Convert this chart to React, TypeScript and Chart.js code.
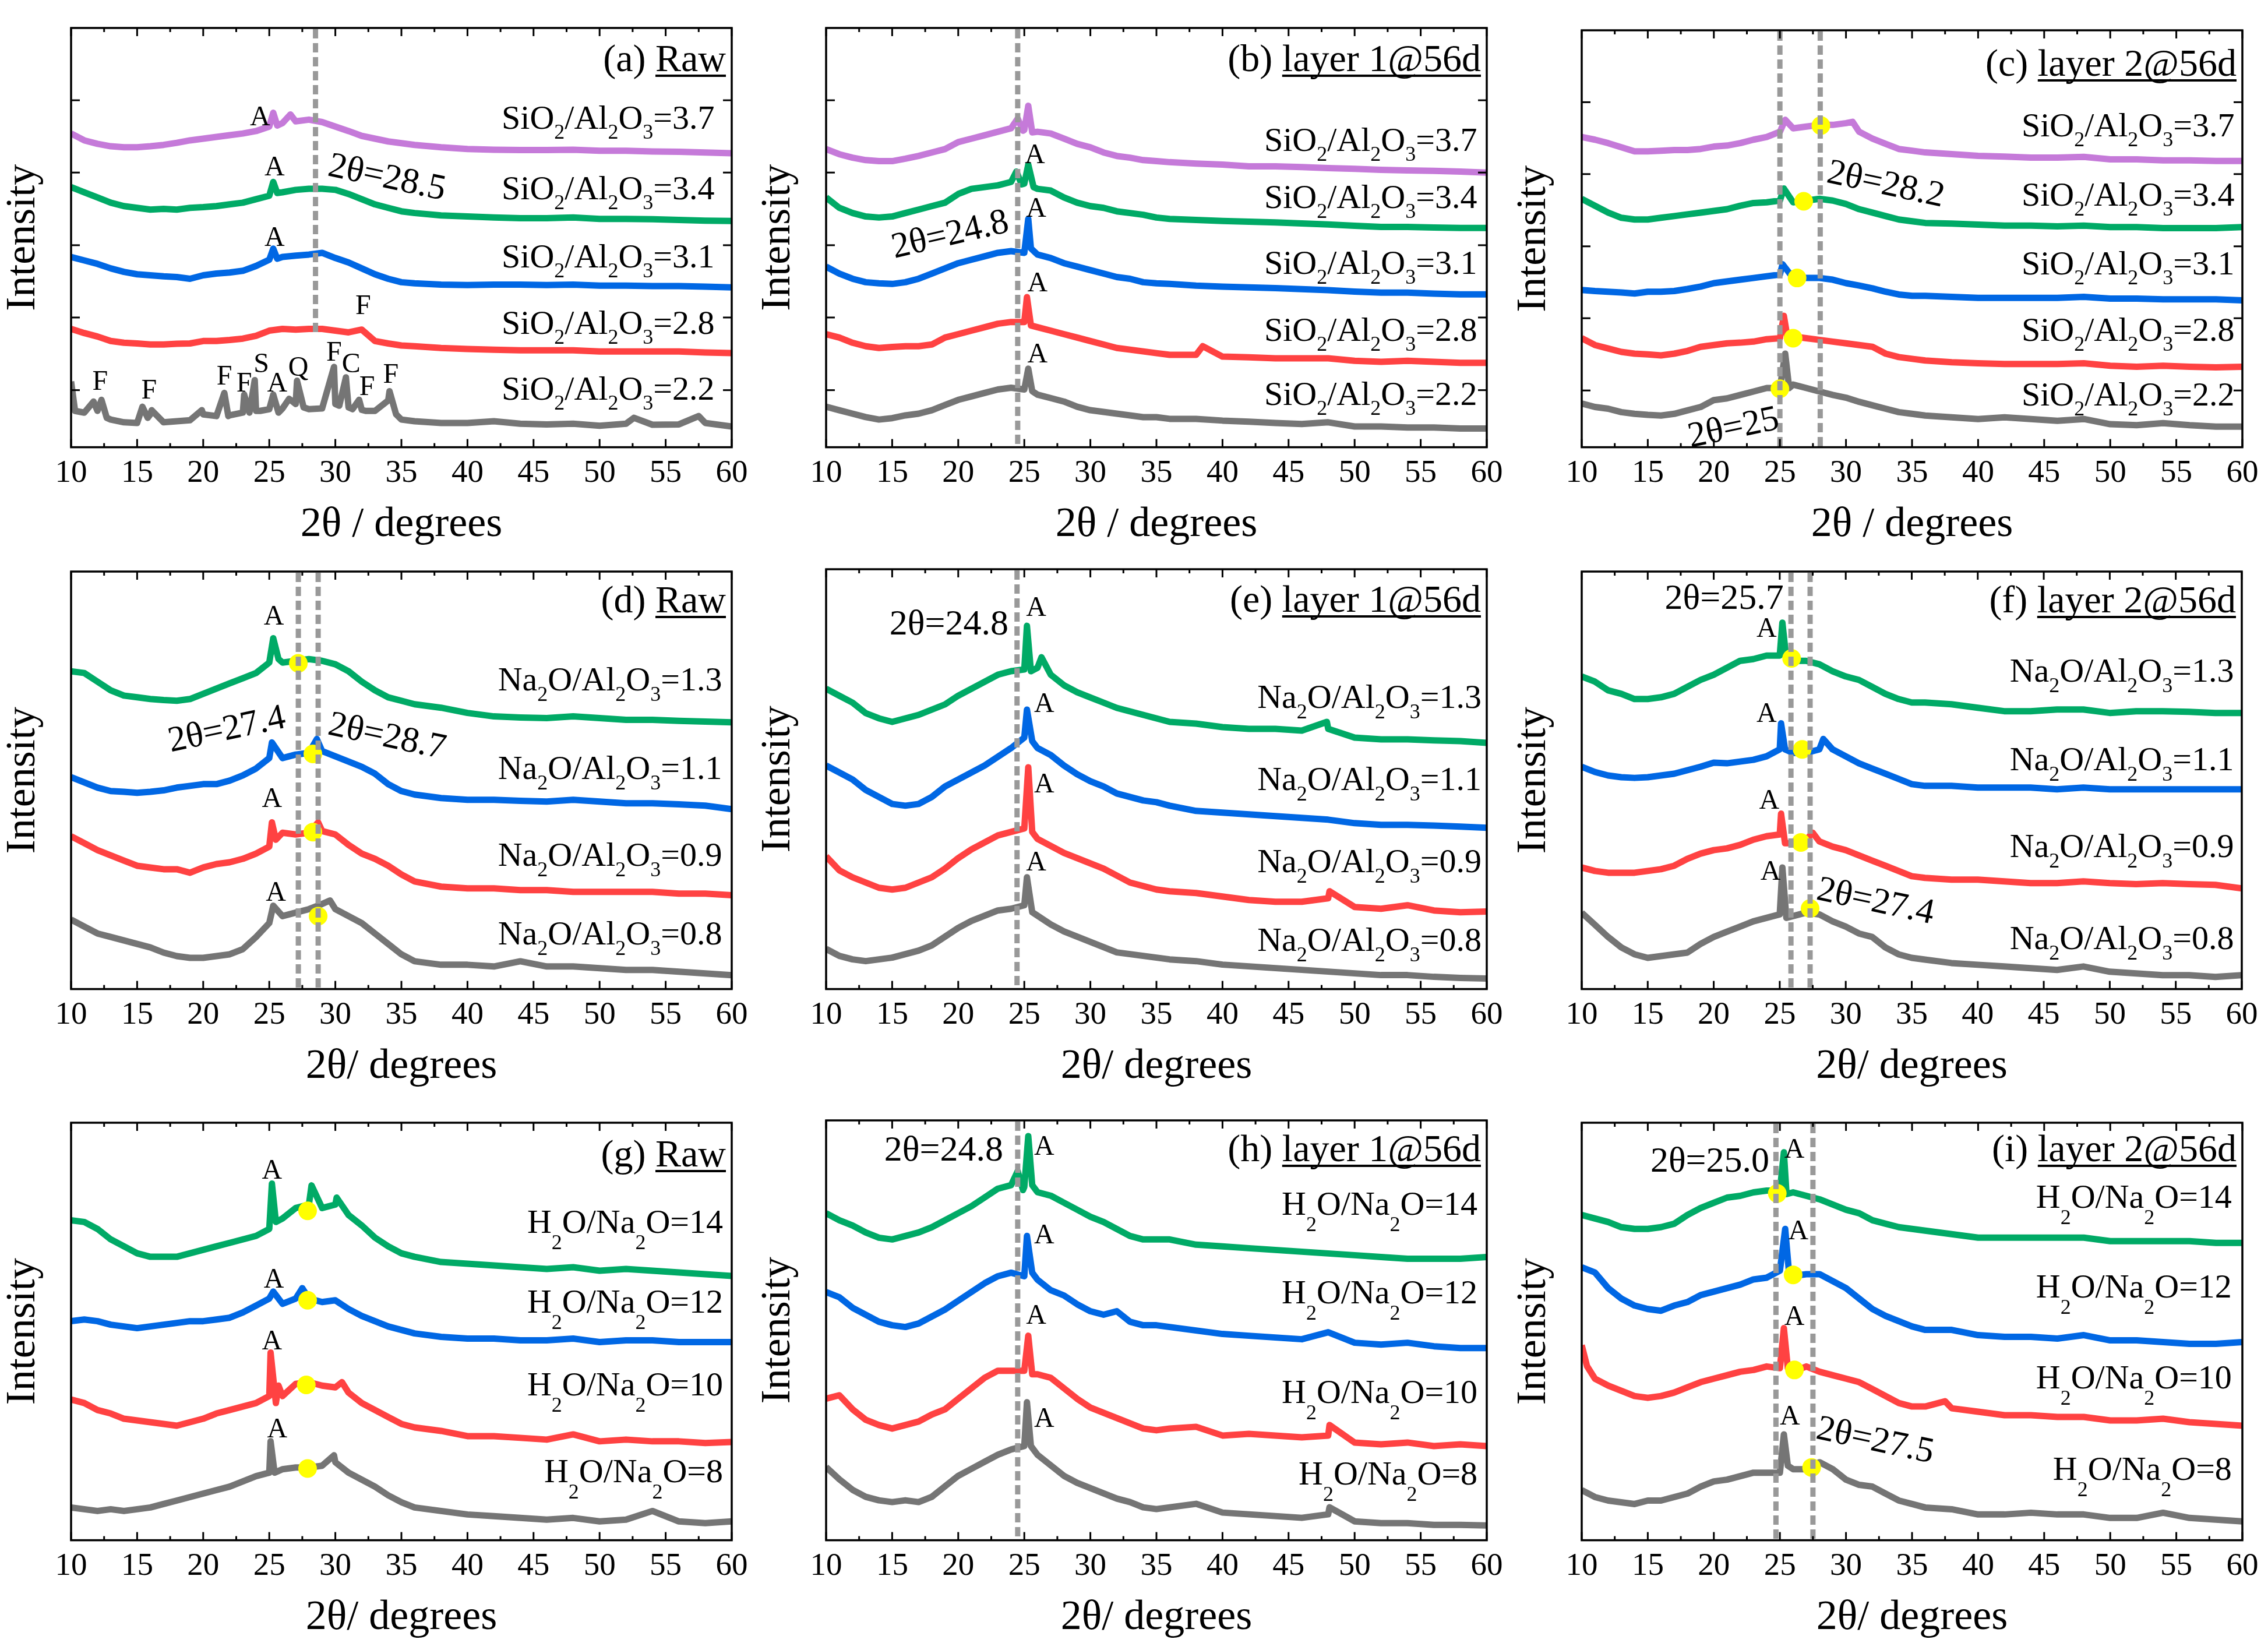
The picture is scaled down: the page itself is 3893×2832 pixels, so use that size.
import React, { useEffect, useRef } from "react";
import { Chart, registerables } from "chart.js";
Chart.register(...registerables);

const FONT = '"Liberation Serif", "Times New Roman", serif';

// 2θ grid (degrees) used by every curve; sharp reflections are listed separately as [2θ, intensity]
const twoTheta = [10, 11, 12, 13, 14, 15, 16, 17, 18, 19, 20, 21, 22, 23, 24, 25, 26, 27, 28, 29, 30, 31, 32, 33, 34, 35, 36, 38, 40, 42, 44, 46, 48, 50, 52, 54, 56, 58, 60];
const yTicksRow1 = [165, 375, 584, 794, 1003];

// ---- (a) Raw, SiO2/Al2O3
const a37 = [907, 887, 877, 870, 867, 867, 870, 874, 880, 887, 892, 897, 902, 907, 914, 927, 937, 942, 947, 940, 927, 914, 900, 892, 884, 879, 874, 867, 862, 860, 859, 859, 860, 857, 857, 855, 854, 852, 850];
const a37p = [[25.3, 967], [25.6, 930], [26.6, 962]];
const a34 = [752, 737, 722, 707, 697, 692, 687, 689, 687, 692, 694, 697, 702, 707, 717, 727, 737, 744, 747, 747, 744, 732, 717, 702, 692, 682, 677, 670, 667, 664, 662, 662, 664, 660, 660, 659, 657, 655, 654];
const a34p = [[25.3, 767], [25.6, 735]];
const a31 = [550, 540, 530, 517, 507, 500, 497, 494, 492, 487, 497, 502, 505, 510, 524, 542, 550, 554, 557, 562, 547, 534, 517, 500, 487, 477, 474, 470, 469, 470, 470, 469, 470, 467, 467, 466, 466, 464, 462];
const a31p = [[25.3, 574], [25.6, 545]];
const a28 = [342, 330, 320, 307, 302, 300, 297, 297, 299, 300, 307, 307, 310, 314, 322, 337, 342, 340, 342, 342, 337, 332, 340, 307, 300, 294, 292, 287, 284, 282, 280, 280, 280, 277, 277, 277, 277, 274, 272];
const a28p: number[][] = [];
const a22 = [190, 100, 105, 80, 72, 70, 95, 72, 75, 78, 95, 90, 92, 100, 105, 110, 112, 125, 110, 112, 125, 115, 108, 105, 135, 80, 75, 70, 70, 75, 68, 66, 68, 62, 68, 65, 66, 70, 60];
const a22p = [[10.3, 105], [11.7, 132], [12.3, 137], [12.7, 85], [15.4, 117], [15.8, 85], [16.1, 107], [19.9, 107], [21.6, 157], [21.9, 90], [23.1, 152], [23.5, 100], [23.9, 194], [24.3, 105], [25.3, 152], [25.7, 100], [26.5, 140], [27.1, 192], [27.6, 115], [29.9, 232], [30.3, 120], [30.8, 202], [31.3, 110], [31.8, 137], [32.3, 105], [34.1, 162], [34.6, 95], [52.6, 85], [57.5, 90]];

// ---- (b) layer 1@56d, SiO2/Al2O3
const b37 = [862, 847, 837, 830, 827, 827, 834, 842, 852, 862, 882, 892, 902, 912, 922, 917, 912, 907, 892, 877, 867, 852, 842, 837, 830, 827, 824, 820, 817, 812, 812, 810, 807, 805, 802, 800, 799, 797, 794];
const b37p = [[24.5, 950], [24.9, 915], [25.3, 987], [25.6, 910]];
const b34 = [722, 692, 677, 667, 664, 667, 677, 687, 697, 707, 732, 747, 752, 757, 767, 762, 747, 742, 722, 707, 697, 692, 682, 677, 672, 664, 660, 657, 654, 652, 650, 647, 644, 640, 637, 637, 635, 634, 634];
const b34p = [[24.4, 797], [24.8, 760], [25.3, 817], [25.7, 752]];
const b31 = [522, 502, 487, 477, 474, 472, 477, 487, 502, 517, 532, 542, 552, 562, 567, 562, 557, 547, 532, 522, 512, 502, 492, 487, 477, 474, 472, 467, 464, 462, 460, 457, 454, 450, 447, 447, 444, 442, 442];
const b31p = [[25.3, 660], [25.5, 575]];
const b28 = [327, 317, 302, 292, 287, 290, 292, 292, 297, 317, 327, 337, 347, 357, 362, 362, 347, 337, 327, 317, 307, 297, 287, 282, 277, 272, 267, 267, 262, 260, 257, 257, 257, 250, 247, 250, 247, 244, 244];
const b28p = [[25.2, 434], [25.5, 352], [38.5, 292]];
const b22 = [117, 107, 97, 87, 80, 84, 92, 97, 107, 122, 137, 147, 157, 167, 172, 167, 152, 142, 132, 117, 107, 102, 97, 92, 87, 87, 82, 82, 77, 74, 70, 67, 72, 60, 60, 57, 57, 54, 54];
const b22p = [[25.3, 227], [25.6, 162]];

// ---- (c) layer 2@56d, SiO2/Al2O3
const c37 = [902, 894, 884, 872, 860, 860, 862, 864, 864, 867, 874, 877, 884, 894, 902, 917, 927, 932, 937, 937, 942, 917, 897, 882, 867, 862, 857, 852, 847, 845, 842, 842, 844, 837, 837, 834, 834, 832, 832];
const c37p = [[25.4, 952], [30.5, 946]];
const c34 = [722, 702, 682, 667, 662, 662, 667, 672, 677, 682, 687, 692, 702, 710, 712, 717, 712, 717, 722, 717, 707, 692, 682, 672, 662, 657, 652, 650, 647, 644, 644, 642, 644, 640, 640, 637, 637, 637, 640];
const c34p = [[25.3, 752]];
const c31 = [457, 454, 452, 450, 447, 452, 452, 454, 460, 467, 477, 482, 487, 492, 497, 502, 492, 492, 492, 487, 477, 470, 462, 452, 444, 440, 440, 437, 434, 434, 434, 434, 437, 432, 432, 430, 430, 430, 427];
const c31p = [[25.2, 532]];
const c28 = [317, 297, 287, 277, 272, 270, 267, 272, 280, 292, 297, 302, 304, 307, 314, 317, 322, 317, 312, 307, 302, 297, 292, 272, 262, 257, 252, 247, 244, 242, 242, 242, 244, 237, 234, 237, 234, 232, 234];
const c28p = [[25.3, 382], [25.6, 312]];
const c22 = [127, 117, 112, 102, 97, 94, 92, 97, 107, 117, 137, 142, 152, 162, 172, 172, 182, 172, 162, 152, 144, 132, 122, 112, 102, 97, 92, 87, 82, 87, 82, 77, 82, 67, 64, 70, 64, 60, 60];
const c22p = [[25.4, 272], [25.7, 172]];
const cMarks = [[28.1, 935], [26.8, 715], [26.3, 492], [26.0, 317], [25.0, 170]];

// ---- (d) Raw, Na2O/Al2O3
const d13 = [915, 910, 885, 860, 845, 840, 835, 832, 830, 835, 850, 865, 880, 895, 910, 940, 940, 945, 950, 945, 935, 915, 885, 860, 840, 830, 820, 810, 795, 785, 782, 780, 785, 780, 775, 775, 772, 770, 768];
const d13p = [[25.3, 1010], [25.7, 950]];
const d11 = [610, 595, 580, 570, 568, 565, 568, 572, 580, 585, 590, 590, 600, 615, 635, 665, 665, 675, 680, 685, 670, 655, 640, 620, 590, 570, 560, 550, 545, 545, 542, 540, 545, 540, 535, 535, 532, 528, 518];
const d11p = [[25.2, 710], [28.6, 720]];
const d09 = [440, 420, 400, 385, 370, 355, 350, 345, 345, 335, 350, 360, 365, 375, 390, 410, 450, 445, 450, 455, 445, 415, 390, 375, 355, 330, 310, 295, 290, 290, 285, 285, 280, 280, 280, 280, 275, 275, 270];
const d09p = [[25.2, 480], [25.5, 430], [28.7, 480]];
const d08 = [200, 180, 160, 150, 140, 130, 120, 105, 95, 90, 90, 95, 100, 115, 150, 190, 210, 220, 230, 245, 230, 210, 190, 160, 130, 100, 80, 70, 70, 65, 80, 65, 65, 60, 55, 55, 50, 45, 40];
const d08p = [[25.3, 240], [29.6, 255]];
const dMarks = [[27.2, 938], [28.3, 677], [28.3, 452], [28.7, 210]];

// ---- (e) layer 1@56d, Na2O/Al2O3
const e13 = [860, 840, 820, 790, 775, 765, 775, 785, 800, 815, 840, 860, 880, 900, 910, 915, 920, 900, 870, 850, 835, 820, 805, 795, 785, 775, 765, 760, 750, 745, 745, 740, 745, 720, 715, 715, 712, 710, 705];
const e13p = [[25.2, 1040], [25.5, 910], [26.3, 950], [47.9, 765]];
const e11 = [640, 620, 600, 570, 550, 530, 525, 530, 550, 580, 600, 620, 640, 665, 690, 720, 690, 670, 640, 615, 595, 580, 560, 550, 540, 535, 525, 510, 505, 500, 495, 490, 485, 475, 470, 470, 468, 465, 462];
const e11p = [[25.2, 800], [25.6, 710]];
const e09 = [380, 340, 320, 305, 290, 285, 290, 305, 320, 345, 375, 400, 420, 440, 450, 460, 430, 410, 390, 375, 360, 345, 325, 305, 295, 285, 280, 275, 265, 255, 250, 250, 260, 235, 230, 240, 225, 220, 222];
const e09p = [[25.3, 635], [25.6, 450], [48.1, 280]];
const e08 = [115, 95, 85, 80, 85, 90, 100, 110, 125, 150, 175, 195, 210, 225, 230, 240, 210, 185, 165, 150, 135, 120, 105, 100, 95, 90, 85, 80, 70, 65, 60, 55, 50, 45, 40, 40, 35, 32, 30];
const e08p = [[25.2, 320], [25.6, 220]];

// ---- (f) layer 2@56d, Na2O/Al2O3
const f13 = [900, 885, 860, 850, 835, 835, 840, 850, 870, 890, 905, 925, 945, 950, 960, 960, 945, 945, 935, 915, 900, 890, 870, 850, 835, 825, 825, 820, 810, 800, 800, 805, 805, 795, 800, 800, 798, 795, 795];
const f13p = [[25.2, 1055], [25.5, 950]];
const f11 = [640, 625, 615, 610, 608, 610, 615, 620, 630, 640, 652, 650, 655, 660, 670, 690, 680, 680, 690, 690, 670, 650, 635, 620, 605, 590, 585, 585, 580, 580, 580, 575, 580, 575, 575, 575, 575, 575, 575];
const f11p = [[25.1, 765], [25.4, 690], [28.3, 720]];
const f09 = [350, 340, 335, 335, 335, 340, 345, 355, 375, 390, 400, 405, 415, 430, 440, 445, 420, 430, 425, 410, 400, 385, 370, 355, 340, 325, 320, 315, 315, 310, 305, 305, 310, 305, 302, 305, 302, 300, 290];
const f09p = [[25.1, 505], [25.4, 420], [27.5, 450]];
const f08 = [220, 185, 150, 120, 100, 90, 95, 100, 105, 130, 150, 165, 180, 195, 205, 215, 210, 220, 215, 195, 180, 160, 150, 120, 100, 90, 85, 75, 70, 65, 60, 55, 65, 50, 45, 40, 40, 35, 40];
const f08p = [[25.2, 350], [25.5, 205]];
const fMarks = [[25.9, 952], [26.7, 690], [26.6, 422], [27.3, 232]];

// ---- (g) Raw, H2O/Na2O
const g14 = [919, 914, 894, 864, 844, 824, 814, 814, 814, 824, 834, 844, 854, 864, 874, 894, 924, 954, 964, 954, 964, 934, 904, 869, 844, 824, 814, 799, 794, 789, 784, 779, 784, 774, 779, 774, 769, 764, 759];
const g14p = [[25.2, 1024], [25.5, 914], [28.2, 1019], [30.1, 984]];
const g12 = [629, 634, 629, 619, 614, 609, 614, 619, 624, 629, 629, 634, 639, 654, 674, 694, 679, 694, 694, 684, 689, 664, 644, 629, 614, 604, 594, 584, 579, 579, 574, 574, 579, 569, 574, 574, 569, 569, 569];
const g12p = [[25.3, 714], [27.5, 724]];
const g10 = [404, 394, 374, 364, 349, 344, 339, 334, 329, 339, 349, 364, 374, 384, 394, 414, 414, 449, 454, 444, 439, 424, 394, 374, 354, 334, 324, 314, 299, 299, 294, 289, 304, 284, 289, 284, 284, 279, 282];
const g10p = [[25.1, 539], [25.5, 394], [25.7, 444], [30.5, 454]];
const g08 = [94, 89, 84, 89, 84, 89, 94, 104, 114, 124, 134, 144, 154, 169, 184, 194, 204, 209, 209, 214, 224, 194, 174, 154, 129, 109, 94, 84, 74, 69, 64, 59, 64, 54, 59, 84, 54, 49, 54];
const g08p = [[25.1, 284], [25.4, 194], [29.9, 244]];
const gMarks = [[27.9, 946], [27.9, 689], [27.8, 446], [27.9, 206]];

// ---- (h) layer 1@56d, H2O/Na2O
const h14 = [934, 914, 899, 879, 864, 859, 869, 879, 894, 914, 934, 954, 979, 1004, 1014, 1009, 994, 984, 964, 944, 924, 909, 889, 869, 859, 859, 859, 844, 839, 834, 829, 824, 819, 814, 809, 804, 804, 804, 809];
const h14p = [[24.5, 1054], [24.9, 1000], [25.3, 1154], [25.6, 1014]];
const h12 = [709, 694, 664, 644, 624, 614, 609, 619, 639, 659, 684, 709, 734, 754, 764, 754, 744, 714, 699, 674, 654, 644, 654, 624, 614, 614, 609, 599, 589, 584, 579, 574, 594, 564, 559, 564, 554, 549, 549];
const h12p = [[25.2, 869], [25.6, 764]];
const h10 = [404, 414, 374, 344, 329, 319, 329, 339, 359, 374, 404, 434, 464, 484, 484, 484, 474, 464, 434, 404, 379, 364, 349, 334, 319, 314, 319, 324, 299, 304, 299, 294, 299, 279, 274, 279, 269, 274, 269];
const h10p = [[25.3, 584], [25.6, 474], [48.1, 329]];
const h08 = [209, 174, 144, 124, 114, 109, 114, 109, 124, 154, 184, 204, 224, 244, 259, 269, 244, 214, 184, 164, 149, 134, 119, 109, 94, 89, 94, 104, 79, 74, 69, 64, 74, 54, 49, 49, 44, 44, 42];
const h08p = [[25.2, 394], [25.5, 269], [48.1, 94]];

// ---- (i) layer 2@56d, H2O/Na2O
const i14 = [934, 924, 914, 899, 894, 894, 899, 909, 934, 954, 969, 984, 989, 999, 1004, 1004, 999, 989, 979, 964, 949, 939, 919, 909, 899, 894, 889, 879, 869, 869, 869, 869, 869, 859, 859, 859, 859, 854, 854];
const i14p = [[25.3, 1114], [25.5, 994]];
const i12 = [784, 769, 724, 694, 674, 664, 659, 674, 684, 704, 714, 724, 734, 749, 754, 774, 759, 764, 764, 744, 724, 694, 664, 644, 629, 614, 604, 604, 589, 584, 584, 579, 589, 574, 574, 569, 564, 564, 569];
const i12p = [[25.4, 894], [25.7, 764]];
const i10 = [560, 464, 444, 429, 414, 409, 414, 424, 439, 454, 464, 474, 484, 489, 499, 494, 484, 499, 484, 474, 464, 454, 434, 414, 394, 384, 384, 379, 369, 359, 359, 354, 354, 344, 344, 349, 339, 334, 329];
const i10p = [[10.4, 500], [25.3, 609], [25.6, 494], [37.5, 399]];
const i08 = [144, 124, 114, 109, 104, 114, 114, 124, 134, 154, 169, 174, 184, 194, 194, 194, 204, 204, 224, 204, 174, 159, 154, 134, 114, 104, 94, 89, 74, 74, 79, 74, 74, 64, 64, 79, 64, 59, 54];
const i08p = [[25.3, 304], [25.6, 214]];
const iMarks = [[24.8, 996], [26.0, 762], [26.1, 489], [27.4, 209]];

const siLabels = ["SiO_2/Al_2O_3=3.7", "SiO_2/Al_2O_3=3.4", "SiO_2/Al_2O_3=3.1", "SiO_2/Al_2O_3=2.8", "SiO_2/Al_2O_3=2.2"];
const naLabels = ["Na_2O/Al_2O_3=1.3", "Na_2O/Al_2O_3=1.1", "Na_2O/Al_2O_3=0.9", "Na_2O/Al_2O_3=0.8"];
const hLabels = ["H_2O/Na_2O=14", "H_2O/Na_2O=12", "H_2O/Na_2O=10", "H_2O/Na_2O=8"];

const PURPLE = "#c57ad9", GREEN = "#00aa66", BLUE = "#0067e4", RED = "#ff4242", GRAY = "#757575";
const C5 = [PURPLE, GREEN, BLUE, RED, GRAY];
const C4 = [GREEN, BLUE, RED, GRAY];

const panels: any[] = [
  { L: 122, T: 48, R: 1256, B: 767, yMax: 1212, xTitle: "2θ / degrees", tagP: "(a) ", tagU: "Raw", tagDy: 74,
    curves: [[a37, a37p], [a34, a34p], [a31, a31p], [a28, a28p], [a22, a22p]], colors: C5, labels: siLabels,
    labelX: 58.7, labelY: [920, 717, 519, 327, 137], subDy: 17, yTicks: yTicksRow1, dashes: [[28.5, 322]], marks: [],
    letters: [["A", 24.3, 952], ["A", 25.4, 807], ["A", 25.4, 604], ["F", 32.1, 407], ["F", 12.2, 187], ["F", 15.9, 162], ["F", 21.6, 202], ["F", 23.1, 182], ["S", 24.4, 237], ["A", 25.6, 182], ["Q", 27.2, 227], ["F", 29.9, 272], ["C", 31.2, 237], ["F", 32.4, 172], ["F", 34.2, 207]],
    notes: [{ t: "2θ=28.5", x: 33.9, y: 777, rot: 12 }] },
  { L: 1418, T: 48, R: 2552, B: 767, yMax: 1212, xTitle: "2θ / degrees", tagP: "(b) ", tagU: "layer 1@56d", tagDy: 74,
    curves: [[b37, b37p], [b34, b34p], [b31, b31p], [b28, b28p], [b22, b22p]], colors: C5, labels: siLabels,
    labelX: 59.27, labelY: [857, 692, 502, 307, 122], subDy: 17, yTicks: yTicksRow1, dashes: [[24.5]], marks: [],
    letters: [["A", 25.8, 842], ["A", 25.9, 687], ["A", 26.0, 472], ["A", 26.0, 267]],
    notes: [{ t: "2θ=24.8", x: 19.4, y: 612, rot: -13 }] },
  { L: 2715, T: 48, R: 3849, B: 767, yMax: 1212, xTitle: "2θ / degrees", tagP: "(c) ", tagU: "layer 2@56d", tagDy: 78,
    curves: [[c37, c37p], [c34, c34p], [c31, c31p], [c28, c28p], [c22, c22p]], colors: C5, labels: siLabels,
    labelX: 59.4, labelY: [904, 702, 502, 310, 122], subDy: 17, yTicks: yTicksRow1, dashes: [[25.0], [28.05]], marks: cMarks,
    letters: [],
    notes: [{ t: "2θ=28.2", x: 33.0, y: 762, rot: 12 }, { t: "2θ=25", x: 21.5, y: 54, rot: -12 }] },
  { L: 122, T: 977, R: 1256, B: 1697, yMax: 1202, xTitle: "2θ/ degrees", tagP: "(d) ", tagU: "Raw", tagDy: 70,
    curves: [[d13, d13p], [d11, d11p], [d09, d09p], [d08, d08p]], colors: C4, labels: naLabels,
    labelX: 59.27, labelY: [860, 605, 355, 128], subDy: 18, yTicks: [], dashes: [[27.2], [28.7]], marks: dMarks,
    letters: [["A", 25.35, 1070], ["A", 25.2, 545], ["A", 25.5, 275]],
    notes: [{ t: "2θ=27.4", x: 21.8, y: 745, rot: -12 }, { t: "2θ=28.7", x: 33.9, y: 725, rot: 12 }] },
  { L: 1418, T: 977, R: 2552, B: 1697, yMax: 1202, xTitle: "2θ/ degrees", tagP: "(e) ", tagU: "layer 1@56d", tagDy: 73,
    curves: [[e13, e13p], [e11, e11p], [e09, e09p], [e08, e08p]], colors: C4, labels: naLabels,
    labelX: 59.6, labelY: [805, 570, 335, 110], subDy: 18, yTicks: [], dashes: [[24.45]], marks: [],
    letters: [["A", 25.9, 1090], ["A", 26.5, 815], ["A", 26.5, 585], ["A", 25.9, 360]],
    notes: [{ t: "2θ=24.8", x: 23.8, y: 1015, rot: 0 }] },
  { L: 2715, T: 977, R: 3848, B: 1697, yMax: 1202, xTitle: "2θ/ degrees", tagP: "(f) ", tagU: "layer 2@56d", tagDy: 70,
    curves: [[f13, f13p], [f11, f11p], [f09, f09p], [f08, f08p]], colors: C4, labels: naLabels,
    labelX: 59.4, labelY: [885, 630, 380, 115], subDy: 18, yTicks: [], dashes: [[25.85], [27.3]], marks: fMarks,
    letters: [["A", 24.0, 1035], ["A", 24.0, 790], ["A", 24.2, 540], ["A", 24.3, 335]],
    notes: [{ t: "2θ=25.7", x: 25.3, y: 1095, rot: 0 }, { t: "2θ=27.4", x: 32.25, y: 250, rot: 12 }] },
  { L: 122, T: 1923, R: 1256, B: 2643, yMax: 1199, xTitle: "2θ/ degrees", tagP: "(g) ", tagU: "Raw", tagDy: 75,
    curves: [[g14, g14p], [g12, g12p], [g10, g10p], [g08, g08p]], colors: C4, labels: hLabels,
    labelX: 59.34, labelY: [882, 654, 416, 167], subDy: 28, yTicks: [], dashes: [], marks: gMarks,
    letters: [["A", 25.2, 1059], ["A", 25.35, 746], ["A", 25.2, 569], ["A", 25.6, 316]],
    notes: [] },
  { L: 1418, T: 1923, R: 2552, B: 2643, yMax: 1199, xTitle: "2θ/ degrees", tagP: "(h) ", tagU: "layer 1@56d", tagDy: 70,
    curves: [[h14, h14p], [h12, h12p], [h10, h10p], [h08, h08p]], colors: C4, labels: hLabels,
    labelX: 59.3, labelY: [929, 676, 392, 159], subDy: 28, yTicks: [], dashes: [[24.5]], marks: [],
    letters: [["A", 26.5, 1121], ["A", 26.5, 869], ["A", 25.9, 639], ["A", 26.5, 344]],
    notes: [{ t: "2θ=24.8", x: 23.4, y: 1084, rot: 0 }] },
  { L: 2715, T: 1923, R: 3849, B: 2643, yMax: 1199, xTitle: "2θ/ degrees", tagP: "(i) ", tagU: "layer 2@56d", tagDy: 66,
    curves: [[i14, i14p], [i12, i12p], [i10, i10p], [i08, i08p]], colors: C4, labels: hLabels,
    labelX: 59.2, labelY: [954, 697, 436, 174], subDy: 28, yTicks: [], dashes: [[24.7], [27.5]], marks: iMarks,
    letters: [["A", 26.1, 1119], ["A", 26.4, 886], ["A", 26.1, 639], ["A", 25.75, 354]],
    notes: [{ t: "2θ=25.0", x: 24.2, y: 1059, rot: 0 }, { t: "2θ=27.5", x: 32.2, y: 284, rot: 12 }] },
];

function buildPoints(base: number[], peaks: number[][]) {
  const pts = twoTheta.map((x, i) => ({ x, y: base[i] }));
  peaks.forEach((p) => pts.push({ x: p[0], y: p[1] }));
  pts.sort((a, b) => a.x - b.x);
  return pts;
}

function drawRich(ctx: CanvasRenderingContext2D, s: string, xr: number, yb: number, size: number, subDy: number) {
  const parts: any[] = [];
  let i = 0;
  while (i < s.length) {
    if (s[i] === "_") { parts.push({ t: s[i + 1], sub: true }); i += 2; }
    else { let j = i; while (j < s.length && s[j] !== "_") j++; parts.push({ t: s.slice(i, j), sub: false }); i = j; }
  }
  const subSize = Math.round(size * 0.62);
  let total = 0;
  for (const p of parts) { ctx.font = `${p.sub ? subSize : size}px ${FONT}`; p.w = ctx.measureText(p.t).width; total += p.w; }
  let x = xr - total;
  ctx.textAlign = "left"; ctx.textBaseline = "alphabetic";
  for (const p of parts) { ctx.font = `${p.sub ? subSize : size}px ${FONT}`; ctx.fillText(p.t, x, p.sub ? yb + subDy : yb); x += p.w; }
}

function makeDeco(cfg: any) {
  return {
    id: "deco",
    afterDatasetsDraw(chart: any) {
      const { ctx, chartArea: ca, scales } = chart;
      const xs = scales.x, ys = scales.y;
      ctx.save();
      ctx.strokeStyle = "#999999"; ctx.lineWidth = 9; ctx.setLineDash([16, 8]);
      for (const d of cfg.dashes) {
        const px = xs.getPixelForValue(d[0]);
        const yEnd = d.length > 1 ? ys.getPixelForValue(d[1]) : ca.bottom;
        ctx.beginPath(); ctx.moveTo(px, ca.top + 2); ctx.lineTo(px, yEnd); ctx.stroke();
      }
      ctx.restore();
    },
    afterDraw(chart: any) {
      const { ctx, chartArea: ca, scales } = chart;
      const xs = scales.x, ys = scales.y;
      ctx.save();
      ctx.fillStyle = "#000"; ctx.strokeStyle = "#000";
      ctx.lineWidth = 3.5; ctx.setLineDash([]);
      ctx.strokeRect(ca.left, ca.top, ca.right - ca.left, ca.bottom - ca.top);
      ctx.lineWidth = 3;
      const majors = xs.ticks.map((t: any) => t.value);
      const all: any[] = [];
      majors.forEach((v: number, k: number) => { all.push([v, 14]); if (k < majors.length - 1) all.push([(v + majors[k + 1]) / 2, 7]); });
      for (const [v, len] of all) {
        const px = xs.getPixelForValue(v);
        ctx.beginPath(); ctx.moveTo(px, ca.bottom); ctx.lineTo(px, ca.bottom - len); ctx.stroke();
        ctx.beginPath(); ctx.moveTo(px, ca.top); ctx.lineTo(px, ca.top + len); ctx.stroke();
      }
      for (const v of cfg.yTicks) {
        const py = ys.getPixelForValue(v);
        ctx.beginPath(); ctx.moveTo(ca.left, py); ctx.lineTo(ca.left + 15, py); ctx.stroke();
        ctx.beginPath(); ctx.moveTo(ca.right, py); ctx.lineTo(ca.right - 15, py); ctx.stroke();
      }
      ctx.font = `66px ${FONT}`; ctx.textAlign = "left"; ctx.textBaseline = "alphabetic";
      const wU = ctx.measureText(cfg.tagU).width, wP = ctx.measureText(cfg.tagP).width;
      const xr = ca.right - 10, yb = ca.top + cfg.tagDy;
      ctx.fillText(cfg.tagP, xr - wU - wP, yb);
      ctx.fillText(cfg.tagU, xr - wU, yb);
      ctx.fillRect(xr - wU, yb + 6, wU, 4);
      cfg.labels.forEach((s: string, k: number) => {
        drawRich(ctx, s, xs.getPixelForValue(cfg.labelX), ys.getPixelForValue(cfg.labelY[k]), 58, cfg.subDy);
      });
      ctx.font = `48px ${FONT}`; ctx.textAlign = "center"; ctx.textBaseline = "middle";
      for (const [t, x, y] of cfg.letters) ctx.fillText(t, xs.getPixelForValue(x), ys.getPixelForValue(y));
      ctx.font = `62px ${FONT}`;
      for (const n of cfg.notes) {
        const px = xs.getPixelForValue(n.x), py = ys.getPixelForValue(n.y);
        if (n.rot) {
          ctx.save(); ctx.translate(px, py); ctx.rotate((n.rot * Math.PI) / 180);
          ctx.textAlign = "center"; ctx.textBaseline = "middle"; ctx.fillText(n.t, 0, 0); ctx.restore();
        } else {
          ctx.textAlign = "right"; ctx.textBaseline = "alphabetic"; ctx.fillText(n.t, px, py);
        }
      }
      ctx.restore();
    },
  };
}

const PT = 12, LEFTW = 122, RIGHTW = 60, AXH = 177;

function Panel({ cfg }: { cfg: any }) {
  const ref = useRef<HTMLCanvasElement>(null);
  const w = LEFTW + (cfg.R - cfg.L) + RIGHTW;
  const h = PT + (cfg.B - cfg.T) + AXH;
  useEffect(() => {
    const datasets: any[] = [];
    datasets.push({
      data: cfg.marks.map((m: number[]) => ({ x: m[0], y: m[1] })),
      showLine: false, pointRadius: 16, pointBackgroundColor: "#ffff00", pointBorderWidth: 0,
      borderWidth: 0, order: -1,
    });
    cfg.curves.forEach((c: any, k: number) => {
      datasets.push({
        data: buildPoints(c[0], c[1]), borderColor: cfg.colors[k], borderWidth: 11, pointRadius: 0,
        tension: 0, fill: false, borderJoinStyle: "round", order: k,
      });
    });
    const chart = new Chart(ref.current as HTMLCanvasElement, {
      type: "line",
      data: { datasets },
      options: {
        animation: false, responsive: false, devicePixelRatio: 1,
        layout: { padding: { left: 0, right: RIGHTW, top: PT, bottom: 0 } },
        plugins: { legend: { display: false }, tooltip: { enabled: false } },
        scales: {
          x: {
            type: "linear", min: 10, max: 60, position: "bottom",
            ticks: { stepSize: 5, padding: 12, color: "#000", maxRotation: 0, autoSkip: false, font: { family: FONT, size: 55, lineHeight: 1.2 } },
            grid: { display: false, drawTicks: false }, border: { display: false },
            title: { display: true, text: cfg.xTitle, color: "#000", font: { family: FONT, size: 72, lineHeight: 1.2 }, padding: { top: 0, bottom: 0 } },
          },
          y: {
            type: "linear", min: 0, max: cfg.yMax, position: "left",
            ticks: { display: false }, grid: { display: false, drawTicks: false }, border: { display: false },
            title: { display: true, text: "Intensity", color: "#000", font: { family: FONT, size: 72, lineHeight: 1.0 }, padding: { top: 4, bottom: 46 } },
          },
        },
      } as any,
      plugins: [makeDeco(cfg) as any],
    });
    return () => chart.destroy();
  }, []);
  return (
    <canvas ref={ref} width={w} height={h}
      style={{ position: "absolute", left: cfg.L - LEFTW, top: cfg.T - PT, width: w, height: h }} />
  );
}

export default function App() {
  useEffect(() => { document.body.style.margin = "0"; document.body.style.background = "#fff"; }, []);
  return (
    <div style={{ position: "absolute", left: 0, top: 0, width: 3893, height: 2832, background: "#fff", overflow: "hidden" }}>
      {panels.map((p, i) => <Panel key={i} cfg={p} />)}
    </div>
  );
}
